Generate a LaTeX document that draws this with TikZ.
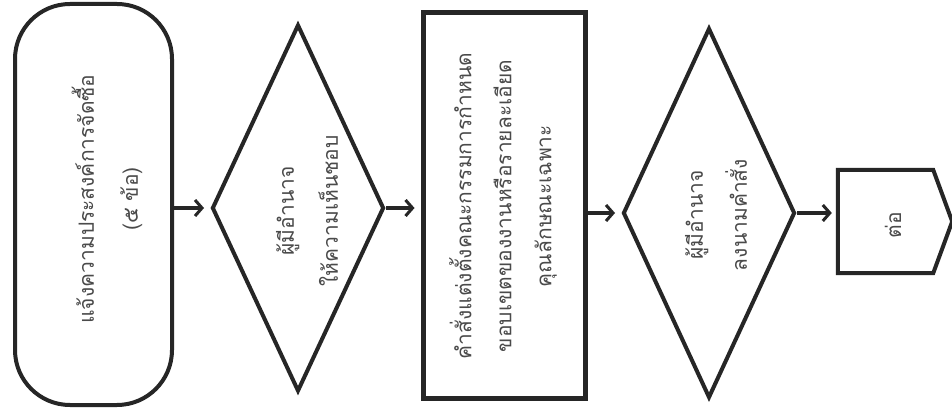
\documentclass[tikz,border=0pt]{standalone}
\usepackage{fontspec}
\newfontfamily\thaifont[Script=Thai]{Loma}
\usetikzlibrary{shapes.geometric,arrows.meta}
\definecolor{ink}{HTML}{262626}
\definecolor{txtc}{HTML}{4A4A4A}
\tikzset{
  shapeline/.style={draw=ink, line width=4pt, fill=white},
  termbox/.style={shapeline, rectangle, rounded corners=55pt, inner sep=0pt},
  decbox/.style={shapeline, diamond, aspect=0.47, inner sep=0pt},
  procbox/.style={shapeline, line width=5pt, rectangle, inner sep=0pt},
  ghost/.style={rectangle, inner sep=0pt},
  txt/.style={rotate=90, align=center, text=txtc, font=\thaifont\fontsize{21pt}{44pt}\selectfont, inner sep=0pt},
  arr/.style={draw=ink, line width=3.2pt, -{Straight Barb[length=7pt,width=16pt,line width=3pt]}, shorten >=6pt}
}
\begin{document}
\begin{tikzpicture}[x=1pt,y=1pt]
\useasboundingbox (0,0) rectangle (952,-411);
\fill[white] (0,0) rectangle (952,-411);
% terminator
\node[termbox, minimum width=157pt, minimum height=401pt] (t) at (93.5,-204.5) {};
\node[txt] (tt) at (107,-199) {แจ้งความประสงค์การจัดซื้อ\\(๕ ข้อ)};
% decision 1
\node[decbox, minimum width=172pt, minimum height=367pt] (d1) at (298,-208) {};
\node[txt] (d1t) at (307,-211) {ผู้มีอำนาจ\\ให้ความเห็นชอบ};
% process
\node[procbox, minimum width=162pt, minimum height=385pt] (p) at (504,-205.5) {};
\node[txt, font=\thaifont\fontsize{21pt}{40pt}\selectfont] (pt) at (503,-206) {คำสั่งแต่งตั้งคณะกรรมการกำหนด\\ขอบเขตของงานหรือรายละเอียด\\คุณลักษณะเฉพาะ};
% decision 2
\node[decbox, minimum width=172pt, minimum height=370pt] (d2) at (709,-213) {};
\node[txt] (d2t) at (716,-215) {ผู้มีอำนาจ\\ลงนามคำสั่ง};
% off-page connector
\node[ghost, minimum width=95pt, minimum height=103pt] (c) at (885.5,-221.5) {};
\coordinate (ctip) at ([xshift=19pt]c.east);
\draw[shapeline, line join=miter] (c.north west) -- (c.north east) -- (ctip) -- (c.south east) -- (c.south west) -- cycle;
\node[txt] (ct) at (893,-225) {ต่อ};
% connectors
\draw[arr] (t.east |- d1.west) -- (d1.west);
\draw[arr] (d1.east) -- (d1.east -| p.west);
\draw[arr] (p.east |- d2.west) -- (d2.west);
\draw[arr] (d2.east) -- (d2.east -| c.west);
\end{tikzpicture}
\end{document}
